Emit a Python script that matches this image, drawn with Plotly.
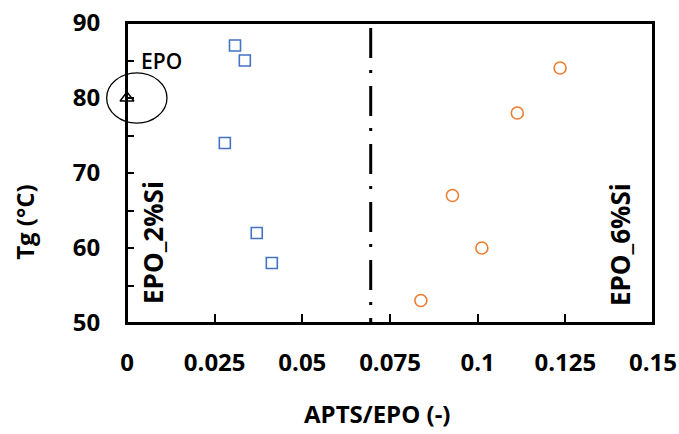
import plotly.graph_objects as go

# ---- data ----
epo2_x = [0.0308, 0.0336, 0.0279, 0.0370, 0.0413]
epo2_y = [87, 85, 74, 62, 58]
epo6_x = [0.1235, 0.1113, 0.0928, 0.1012, 0.0838]
epo6_y = [84, 78, 67, 60, 53]
epo_x = [0.0]
epo_y = [80]
divider_x = 0.0695

x_tickvals = [0, 0.025, 0.05, 0.075, 0.1, 0.125, 0.15]
x_ticktext = ["0", "0.025", "0.05", "0.075", "0.1", "0.125", "0.15"]
y_tickvals = [50, 55, 60, 65, 70, 75, 80, 85, 90]
y_ticktext = ["50", "", "60", "", "70", "", "80", "", "90"]

X_RANGE = [0, 0.15]
Y_RANGE = [50, 90]

FONT = "Open Sans"

fig = go.Figure()
fig.add_trace(go.Scatter(
    x=epo2_x, y=epo2_y, mode="markers", cliponaxis=False,
    marker=dict(symbol="square-open", size=11, color="#4472C4", line=dict(width=1.6, color="#4472C4")),
    showlegend=False))
fig.add_trace(go.Scatter(
    x=epo6_x, y=epo6_y, mode="markers", cliponaxis=False,
    marker=dict(symbol="circle-open", size=12, color="#ED7D31", line=dict(width=1.6, color="#ED7D31")),
    showlegend=False))
fig.add_trace(go.Scatter(
    x=epo_x, y=epo_y, mode="markers", cliponaxis=False,
    marker=dict(symbol="triangle-up-open", size=12, color="black", line=dict(width=1.5, color="black")),
    showlegend=False))

# ellipse around EPO point (converted to paper coords so it is not clipped)
def px(v):
    return (v - X_RANGE[0]) / (X_RANGE[1] - X_RANGE[0])

def py(v):
    return (v - Y_RANGE[0]) / (Y_RANGE[1] - Y_RANGE[0])

ell_cx, ell_cy, ell_rx, ell_ry = 0.0028, 80.0, 0.0086, 3.35
fig.add_shape(type="circle", xref="paper", yref="paper",
              x0=px(ell_cx - ell_rx), x1=px(ell_cx + ell_rx),
              y0=py(ell_cy - ell_ry), y1=py(ell_cy + ell_ry),
              line=dict(color="black", width=1.3))

# frame around plot area
fig.add_shape(type="rect", xref="paper", yref="paper", x0=0, x1=1, y0=0, y1=1,
              line=dict(color="black", width=2), layer="above")

# dash-dot divider
fig.add_shape(type="line", xref="x", yref="paper",
              x0=divider_x, x1=divider_x, y0=0.983, y1=0.0,
              line=dict(color="black", width=3, dash="30px,12px,3px,13px"))

fig.add_annotation(x=0.0, y=85, xref="x", yref="y", text="EPO", showarrow=False,
                   xanchor="left", yanchor="middle", xshift=12,
                   font=dict(family=FONT, size=21, color="black", weight=600))
fig.add_annotation(x=0.0074, y=60.8, xref="x", yref="y", text="EPO_2%Si", showarrow=False,
                   textangle=-90, xanchor="center", yanchor="middle",
                   font=dict(family=FONT, size=26, color="black", weight="bold"))
fig.add_annotation(x=0.1406, y=60.4, xref="x", yref="y", text="EPO_6%Si", showarrow=False,
                   textangle=-90, xanchor="center", yanchor="middle",
                   font=dict(family=FONT, size=26, color="black", weight="bold"))
fig.add_annotation(x=-0.194, y=0.337, xref="paper", yref="paper", text="Tg (°C)", showarrow=False,
                   textangle=-90, xanchor="center", yanchor="middle",
                   font=dict(family=FONT, size=24, color="black", weight="bold"))
fig.add_annotation(x=0.477, y=-0.30, xref="paper", yref="paper", text="APTS/EPO (-)", showarrow=False,
                   xanchor="center", yanchor="middle",
                   font=dict(family=FONT, size=24, color="black", weight="bold"))

fig.update_xaxes(range=X_RANGE, tickvals=x_tickvals, ticktext=x_ticktext, automargin=False,
                 showgrid=False, zeroline=False, showline=True, linecolor="black", linewidth=2,
                 mirror=True, ticks="inside", ticklen=9, tickwidth=2, tickcolor="black",
                 ticklabelstandoff=17,
                 tickfont=dict(family=FONT, size=24, color="black", weight="bold"))
fig.update_yaxes(range=Y_RANGE, tickvals=y_tickvals, ticktext=y_ticktext, automargin=False,
                 showgrid=False, zeroline=False, showline=True, linecolor="black", linewidth=2,
                 mirror=True, ticks="inside", ticklen=7, tickwidth=2, tickcolor="black",
                 ticklabelstandoff=20,
                 tickfont=dict(family=FONT, size=24, color="black", weight="bold"))

fig.update_layout(width=679, height=434, margin=dict(l=127, r=26, t=23, b=111),
                  template="none",
                  plot_bgcolor="white", paper_bgcolor="white",
                  font=dict(family=FONT, color="black"))

fig.write_html("out.html", config={"displayModeBar": False},
               post_script="document.body.style.margin='0';")
